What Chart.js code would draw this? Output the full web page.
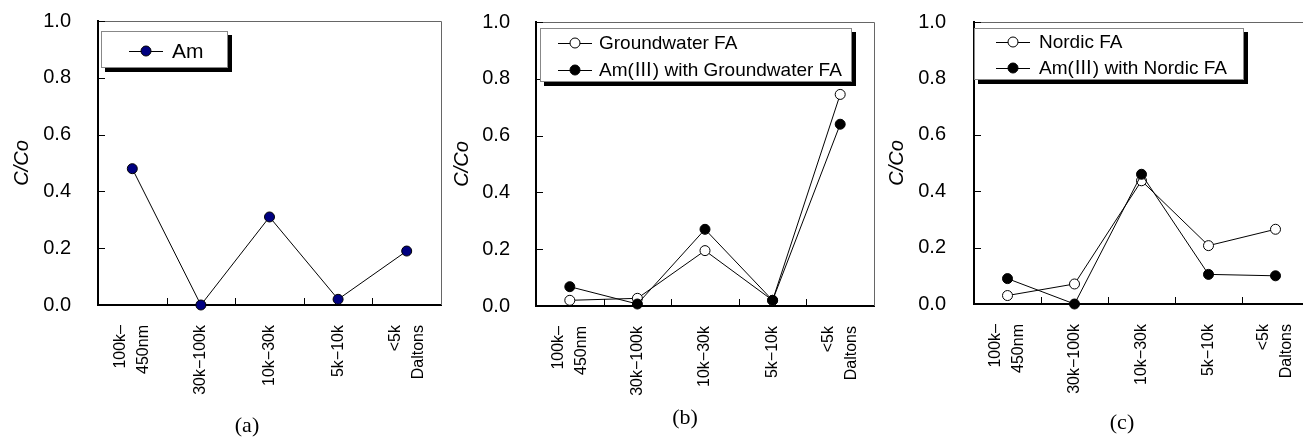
<!DOCTYPE html>
<html>
<head>
<meta charset="utf-8">
<script src="https://cdn.jsdelivr.net/npm/chart.js@4.4.1/dist/chart.umd.min.js"></script>
<style>
  html, body { margin: 0; padding: 0; background: #fff; overflow: hidden; }
  body { width: 1303px; height: 439px; position: relative; }
  canvas { position: absolute; top: 0; }
  .caption {
    position: absolute;
    font-family: "Liberation Serif", "DejaVu Serif", serif;
    font-size: 22px;
    transform: translateX(-50%);
  }
</style>
</head>
<body>
<canvas id="chartA" width="450" height="439" style="left:0"></canvas>
<canvas id="chartB" width="430" height="439" style="left:450px"></canvas>
<canvas id="chartC" width="440" height="439" style="left:880px"></canvas>
<div class="caption" style="left:247px;top:412px">(a)</div>
<div class="caption" style="left:685px;top:404px">(b)</div>
<div class="caption" style="left:1122px;top:409px">(c)</div>
<script>
// size fractions (x axis); two-line labels are stacked side by side when rotated
const fractions = [["100k–", "450nm"], "30k−100k", "10k−30k", "5k−10k", ["<5k", "Daltons"]]
const yTicks = [0, 0.2, 0.4, 0.6, 0.8, 1.0]

// C/Co per fraction
const amOnly = [0.48, 0.0, 0.31, 0.02, 0.19]
const groundwaterFA = [0.02, 0.027, 0.195, 0.02, 0.745]
const amWithGroundwaterFA = [0.068, 0.007, 0.27, 0.02, 0.64]
const nordicFA = [0.03, 0.071, 0.437, 0.207, 0.265]
const amWithNordicFA = [0.09, 0.0, 0.46, 0.105, 0.10]

const FONT = "'Liberation Sans', 'Noto Sans CJK JP', sans-serif"
const LINE_GAP = 23

// top/right frame plus tick marks pointing into the plot
const framePlugin = {
  id: "frame",
  beforeDatasetsDraw(chart) {
    const { ctx, chartArea: { left, top, right, bottom }, scales: { x, y } } = chart
    ctx.save()
    ctx.strokeStyle = "#666"
    ctx.lineWidth = 1
    ctx.beginPath()
    ctx.moveTo(left, top + 0.5)
    ctx.lineTo(right + 0.5, top + 0.5)
    ctx.lineTo(right + 0.5, bottom)
    ctx.stroke()

    ctx.strokeStyle = "#000"
    ctx.beginPath()
    y.ticks.forEach(t => {
      const py = Math.round(y.getPixelForValue(t.value)) + 0.5
      ctx.moveTo(left, py)
      ctx.lineTo(left + 7, py)
    })
    for (let i = 1; i < x.ticks.length; i++) {
      const px = Math.round((x.getPixelForTick(i - 1) + x.getPixelForTick(i)) / 2) + 0.5
      ctx.moveTo(px, bottom)
      ctx.lineTo(px, bottom - 7)
    }
    ctx.stroke()
    ctx.restore()
  }
}

// boxed legend with a drop shadow, one row per dataset
const boxLegend = {
  id: "boxLegend",
  afterDatasetsDraw(chart, args, opts) {
    const { ctx, chartArea } = chart
    const x0 = chartArea.left + opts.dx
    const y0 = chartArea.top + opts.dy
    ctx.save()
    ctx.fillStyle = "#000"
    ctx.fillRect(x0 + 4, y0 + 4, opts.width, opts.height)
    ctx.fillStyle = "#fff"
    ctx.fillRect(x0, y0, opts.width, opts.height)
    ctx.strokeStyle = "#888"
    ctx.lineWidth = 1
    ctx.strokeRect(x0 + 0.5, y0 + 0.5, opts.width - 1, opts.height - 1)

    ctx.font = `${opts.fontSize}px ${FONT}`
    ctx.textBaseline = "middle"
    chart.data.datasets.forEach((ds, i) => {
      const cy = y0 + opts.rows[i]
      const cx = x0 + opts.symbolX
      ctx.strokeStyle = "#000"
      ctx.beginPath()
      ctx.moveTo(cx - 17, cy + 0.5)
      ctx.lineTo(cx + 17, cy + 0.5)
      ctx.stroke()
      ctx.beginPath()
      ctx.arc(cx, cy, 5, 0, Math.PI * 2)
      ctx.fillStyle = ds.pointBackgroundColor
      ctx.fill()
      ctx.strokeStyle = ds.pointBorderColor
      ctx.stroke()
      ctx.fillStyle = "#000"
      ctx.fillText(ds.label, x0 + opts.textX, cy + 1)
    })
    ctx.restore()
  }
}

function series(label, values, fill, order) {
  return {
    label: label,
    data: values,
    borderColor: "#000",
    borderWidth: 1,
    pointRadius: 5,
    pointBorderWidth: 1,
    pointBackgroundColor: fill,
    pointBorderColor: "#000",
    tension: 0,
    clip: false,
    order: order
  }
}

// single-line labels get a blank first line at half spacing so every label
// ends up centred on its category once labelOffset pulls them back
const xLabels = fractions.map(l => Array.isArray(l) ? l : ["", l])

function makeChart(id, datasets, layout) {
  return new Chart(document.getElementById(id), {
    type: "line",
    data: { labels: xLabels, datasets: datasets },
    options: {
      responsive: false,
      animation: false,
      events: [],
      layout: { padding: { left: 0, right: layout.padRight, top: layout.top, bottom: 0 } },
      scales: {
        x: {
          offset: true,
          grid: { display: false, drawTicks: false },
          border: { display: true, color: "#000", width: 2 },
          ticks: {
            autoSkip: false,
            maxRotation: 90,
            minRotation: 90,
            padding: 20,
            labelOffset: -LINE_GAP / 2,
            color: "#000",
            font: ctx => ({
              family: FONT,
              size: 16,
              lineHeight: (Array.isArray(fractions[ctx.index]) ? LINE_GAP : LINE_GAP / 2) + "px"
            })
          },
          afterFit: scale => {
            scale.height = 439 - layout.bottom
            scale.paddingLeft = 0
            scale.paddingRight = 0
          }
        },
        y: {
          min: 0,
          max: 1,
          afterBuildTicks: scale => { scale.ticks = yTicks.map(v => ({ value: v })) },
          grid: { display: false, drawTicks: false },
          border: { display: true, color: "#000", width: 2 },
          ticks: {
            padding: layout.tickPad,
            color: "#000",
            font: { family: FONT, size: 20 },
            callback: v => v.toFixed(1)
          },
          title: {
            display: true,
            text: "C/Co",
            color: "#000",
            padding: { top: layout.titlePad, bottom: 0 },
            font: { family: FONT, size: 20, style: "italic", lineHeight: 1.2 }
          },
          afterFit: scale => {
            scale.width = layout.axisWidth
            scale.paddingTop = 0
            scale.paddingBottom = 0
          }
        }
      },
      plugins: {
        legend: { display: false },
        tooltip: { enabled: false },
        boxLegend: layout.legend
      }
    },
    plugins: [framePlugin, boxLegend]
  })
}

makeChart("chartA", [
  series("Am", amOnly, "#000080", 0)
], {
  axisWidth: 98, padRight: 9, top: 21, bottom: 305, tickPad: 27, titlePad: 10,
  legend: { dx: 3, dy: 10, width: 127, height: 37, rows: [20], symbolX: 45, textX: 71, fontSize: 21 }
})

makeChart("chartB", [
  series("Groundwater FA", groundwaterFA, "#fff", 1),
  series("Am(Ⅲ) with Groundwater FA", amWithGroundwaterFA, "#000", 0)
], {
  axisWidth: 86, padRight: 2, top: 22, bottom: 306, tickPad: 26, titlePad: 0,
  legend: { dx: 4, dy: 6, width: 312, height: 54, rows: [15, 42], symbolX: 35, textX: 59, fontSize: 19 }
})

makeChart("chartC", [
  series("Nordic FA", nordicFA, "#fff", 1),
  series("Am(Ⅲ) with Nordic FA", amWithNordicFA, "#000", 0)
], {
  axisWidth: 94, padRight: 11, top: 22, bottom: 304, tickPad: 28, titlePad: 5,
  legend: { dx: 0, dy: 6, width: 270, height: 52, rows: [14, 40], symbolX: 39, textX: 65, fontSize: 19 }
})
</script>
</body>
</html>
